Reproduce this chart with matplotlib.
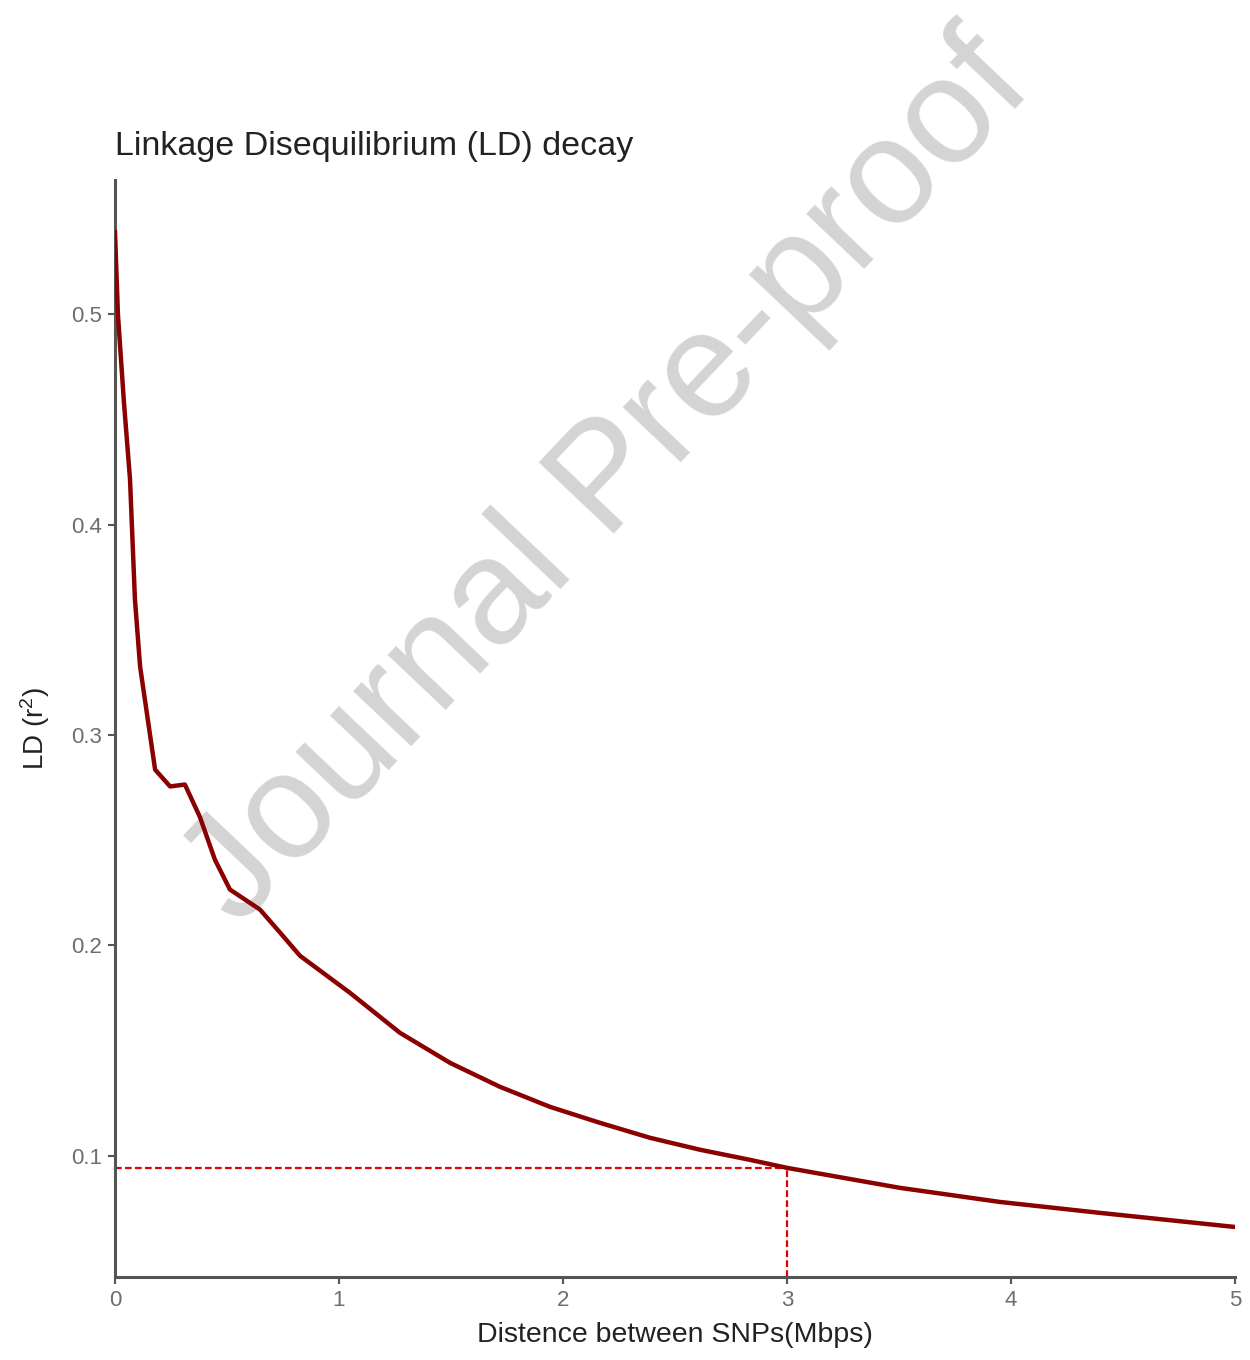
import matplotlib
matplotlib.use("Agg")
import matplotlib.pyplot as plt

plt.rcParams['font.family'] = ['Liberation Sans', 'DejaVu Sans']
plt.rcParams['mathtext.fontset'] = 'custom'
plt.rcParams['mathtext.rm'] = 'Liberation Sans'

# LD衰减曲线
distance = [0, 0.013, 0.04, 0.067, 0.089, 0.112, 0.179, 0.246, 0.312, 0.379, 0.446,
            0.513, 0.647, 0.737, 0.826, 1.049, 1.272, 1.496, 1.719, 1.942,
            2.165, 2.388, 2.612, 2.835, 3.0, 3.504, 3.95, 4.397, 5.0]
ld_r2 = [0.539, 0.500, 0.458, 0.4215, 0.3644, 0.3325, 0.2835, 0.2755, 0.2764, 0.261, 0.2407,
         0.2265, 0.217, 0.206, 0.195, 0.1774, 0.1584, 0.1441, 0.1327, 0.1232,
         0.1156, 0.1085, 0.1028, 0.098, 0.0942, 0.0847, 0.078, 0.0728, 0.0661]

# 阈值标注
cut_x = 3.0
cut_y = 0.0942

x_ticks = [0, 1, 2, 3, 4, 5]
y_ticks = [0.1, 0.2, 0.3, 0.4, 0.5]

fig = plt.figure(figsize=(12.5, 13.6), dpi=100)
ax = fig.add_axes([0.092, 0.061, 0.896, 0.807])
ax.set_facecolor('none')

ax.plot(distance, ld_r2, color='#8b0000', linewidth=3.2, zorder=3,
        solid_joinstyle='round')

y_min, y_max = 0.0423, 0.564
ax.plot([0, cut_x], [cut_y, cut_y], color='#e00000', linestyle=(0, (3, 1.5)),
        linewidth=1.6, zorder=2)
ax.plot([cut_x, cut_x], [y_min, cut_y], color='#e00000', linestyle=(0, (3, 1.5)),
        linewidth=1.6, zorder=2)

ax.set_xlim(0, 5)
ax.set_ylim(y_min, y_max)
ax.set_xticks(x_ticks)
ax.set_xticklabels([str(t) for t in x_ticks])
ax.set_yticks(y_ticks)
ax.set_yticklabels([str(t) for t in y_ticks])

for side in ['top', 'right']:
    ax.spines[side].set_visible(False)
for side in ['left', 'bottom']:
    ax.spines[side].set_color('#555555')
    ax.spines[side].set_linewidth(2.2)
ax.tick_params(colors='#555555', labelcolor='#6e6e6e', labelsize=16,
               length=5, width=1.5, pad=4)

ax.set_title('Linkage Disequilibrium (LD) decay', loc='left', fontsize=24.5,
             color='#222222', pad=18)
ax.set_xlabel('Distence between SNPs(Mbps)', fontsize=20.5, color='#222222', labelpad=8)
ax.set_ylabel(r'LD ($\mathregular{r^2}$)', fontsize=20, color='#222222', labelpad=14)

# 水印
ax.text(0.487, 0.646, 'Journal Pre-proof', transform=fig.transFigure,
        rotation=46.5, fontsize=108, color='#d4d4d4', ha='center', va='center',
        rotation_mode='anchor', zorder=1, clip_on=False)

fig.savefig('out.png', dpi=100, facecolor='white')
